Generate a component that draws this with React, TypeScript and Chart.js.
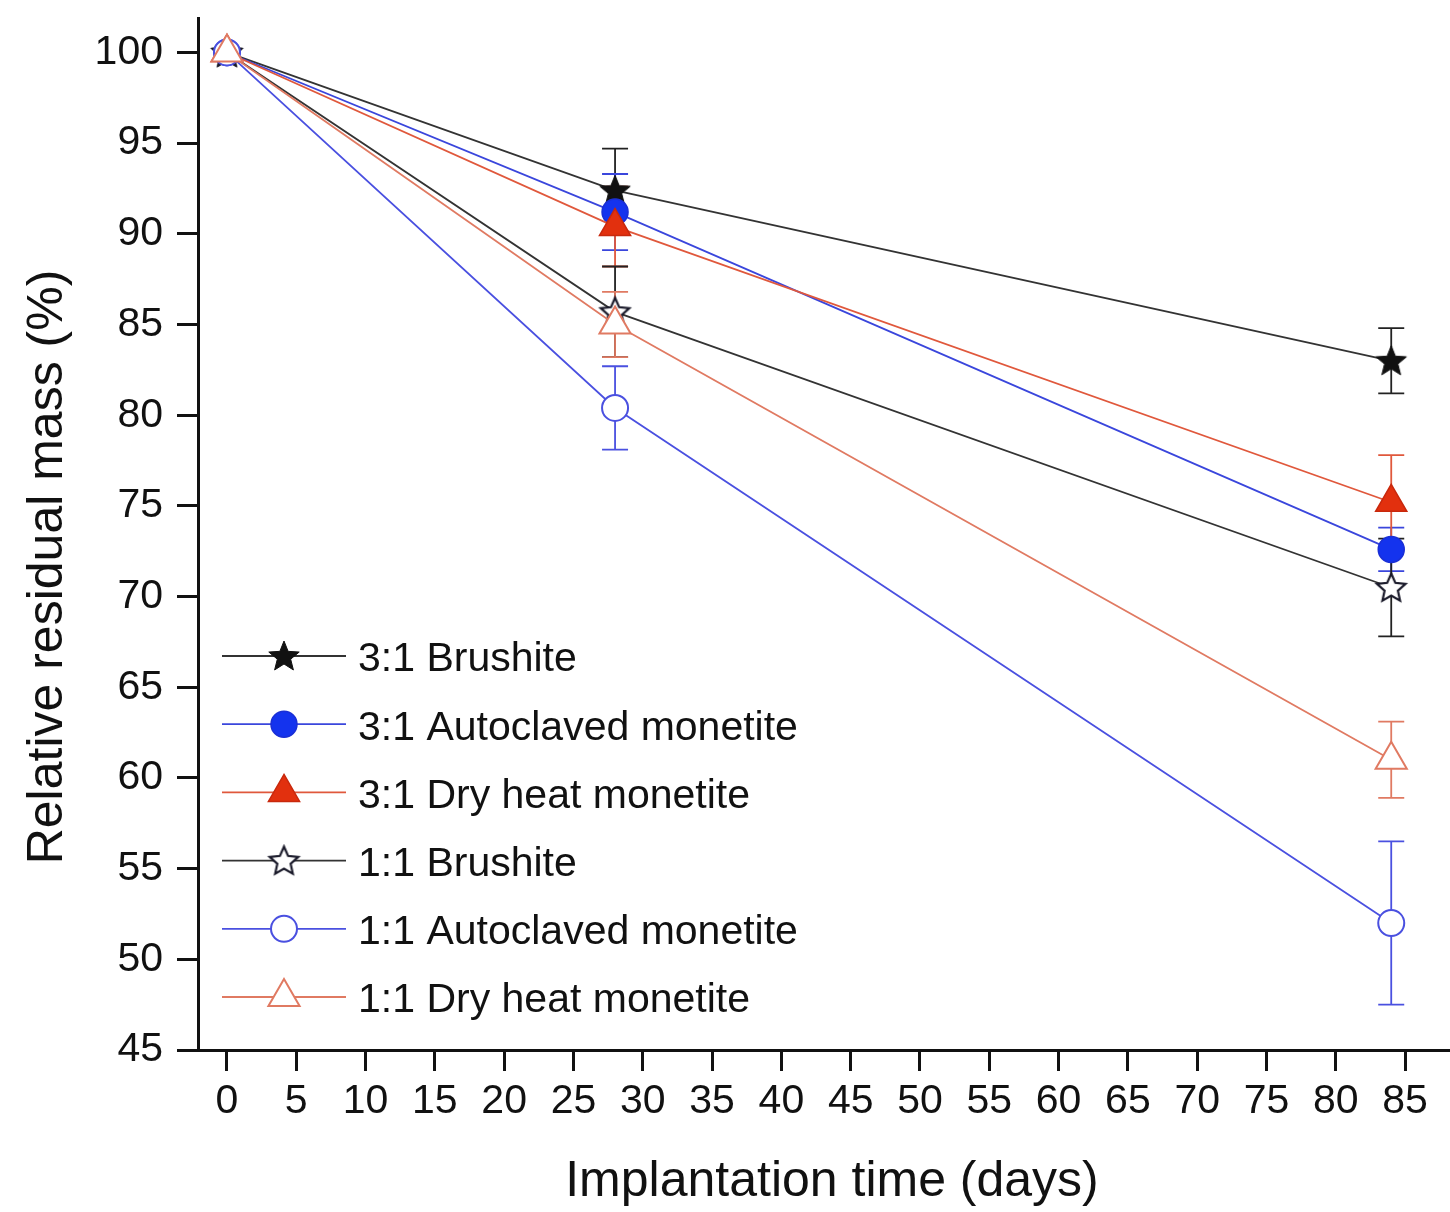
import React, { useEffect, useRef } from 'react';
import { Chart, registerables } from 'chart.js';

Chart.register(...registerables);

// ---------- data ----------
const days = [0, 28, 84];

const seriesNames = [
  '3:1 Brushite',
  '3:1 Autoclaved monetite',
  '3:1 Dry heat monetite',
  '1:1 Brushite',
  '1:1 Autoclaved monetite',
  '1:1 Dry heat monetite',
];

const brushite31 = [100, 92.4, 83.0];
const brushite31Err = [0, 2.3, 1.8];
const autoclaved31 = [100, 91.2, 72.6];
const autoclaved31Err = [0, 2.1, 1.2];
const dryHeat31 = [100, 90.4, 75.2];
const dryHeat31Err = [0, 2.2, 2.6];
const brushite11 = [100, 85.7, 70.5];
const brushite11Err = [0, 2.5, 2.7];
const autoclaved11 = [100, 80.4, 52.0];
const autoclaved11Err = [0, 2.3, 4.5];
const dryHeat11 = [100, 85.0, 61.0];
const dryHeat11Err = [0, 1.8, 2.1];

const xTickValues = [0, 5, 10, 15, 20, 25, 30, 35, 40, 45, 50, 55, 60, 65, 70, 75, 80, 85];
const yTickValues = [45, 50, 55, 60, 65, 70, 75, 80, 85, 90, 95, 100];

const xTitle = 'Implantation time (days)';
const yTitle = 'Relative residual mass (%)';

const FONT = "'Liberation Sans', Arial, Helvetica, sans-serif";

// ---------- marker images ----------
function makeStar(fill: string, stroke: string, R: number, r: number, lw: number) {
  const size = Math.ceil(2 * R + lw * 2 + 4);
  const c = document.createElement('canvas');
  c.width = size;
  c.height = size;
  const ctx = c.getContext('2d')!;
  ctx.translate(size / 2, size / 2 + 1);
  ctx.beginPath();
  for (let i = 0; i < 10; i++) {
    const rad = i % 2 === 0 ? R : r;
    const a = -Math.PI / 2 + (i * Math.PI) / 5;
    ctx.lineTo(rad * Math.cos(a), rad * Math.sin(a));
  }
  ctx.closePath();
  ctx.fillStyle = fill;
  ctx.fill();
  ctx.lineJoin = 'miter';
  ctx.lineWidth = lw;
  ctx.strokeStyle = stroke;
  ctx.stroke();
  return c;
}

type Series = {
  name: string;
  values: number[];
  errors: number[];
  line: string;
  err: string;
  style: any;
  radius: number;
  fill: string;
  edge: string;
  edgeWidth: number;
};

function buildSeries(): Series[] {
  const filledStar = makeStar('#111', '#111', 16, 7, 1);
  const openStar = makeStar('#ffffff', '#1a1a2a', 15, 7, 2.2);
  return [
    { name: seriesNames[0], values: brushite31, errors: brushite31Err, line: '#333', err: '#222', style: filledStar, radius: 16, fill: '#111', edge: '#111', edgeWidth: 1 },
    { name: seriesNames[1], values: autoclaved31, errors: autoclaved31Err, line: '#3a46dc', err: '#3a46dc', style: 'circle', radius: 13, fill: '#1433ee', edge: '#1a2fd6', edgeWidth: 1.5 },
    { name: seriesNames[2], values: dryHeat31, errors: dryHeat31Err, line: '#e0583c', err: '#e0583c', style: 'triangle', radius: 18, fill: '#e2300e', edge: '#c8280c', edgeWidth: 1.5 },
    { name: seriesNames[3], values: brushite11, errors: brushite11Err, line: '#333', err: '#222', style: openStar, radius: 15, fill: '#fff', edge: '#1a1a2a', edgeWidth: 2 },
    { name: seriesNames[4], values: autoclaved11, errors: autoclaved11Err, line: '#4a50e0', err: '#4a50e0', style: 'circle', radius: 13, fill: '#ffffff', edge: '#4a50e0', edgeWidth: 2 },
    { name: seriesNames[5], values: dryHeat11, errors: dryHeat11Err, line: '#e07a62', err: '#e07a62', style: 'triangle', radius: 18, fill: '#ffffff', edge: '#e07a62', edgeWidth: 2 },
  ];
}

function drawLegendMarker(ctx: CanvasRenderingContext2D, s: Series, x: number, y: number) {
  ctx.save();
  if (typeof s.style === 'object') {
    ctx.drawImage(s.style, x - s.style.width / 2, y - s.style.height / 2);
  } else if (s.style === 'circle') {
    ctx.beginPath();
    ctx.arc(x, y, s.radius, 0, Math.PI * 2);
    ctx.fillStyle = s.fill;
    ctx.fill();
    ctx.lineWidth = s.edgeWidth;
    ctx.strokeStyle = s.edge;
    ctx.stroke();
  } else if (s.style === 'triangle') {
    const r = s.radius;
    ctx.beginPath();
    for (let k = 0; k < 3; k++) {
      const a = (k * 2 * Math.PI) / 3;
      ctx.lineTo(x + Math.sin(a) * r, y - Math.cos(a) * r);
    }
    ctx.closePath();
    ctx.fillStyle = s.fill;
    ctx.fill();
    ctx.lineWidth = s.edgeWidth;
    ctx.strokeStyle = s.edge;
    ctx.stroke();
  }
  ctx.restore();
}

export default function App() {
  const canvasRef = useRef<HTMLCanvasElement | null>(null);

  useEffect(() => {
    document.body.style.margin = '0';
    const canvas = canvasRef.current;
    if (!canvas) return;
    const SERIES = buildSeries();

    const errorBarPlugin = {
      id: 'errorBars',
      beforeDatasetsDraw(chart: any) {
        const ctx = chart.ctx as CanvasRenderingContext2D;
        const xs = chart.scales.x;
        const ys = chart.scales.y;
        SERIES.forEach((s) => {
          ctx.save();
          ctx.strokeStyle = s.err;
          ctx.lineWidth = 1.8;
          s.values.forEach((v, i) => {
            const e = s.errors[i];
            if (!e) return;
            const px = xs.getPixelForValue(days[i]);
            const top = ys.getPixelForValue(v + e);
            const bot = ys.getPixelForValue(v - e);
            const cw = 13;
            ctx.beginPath();
            ctx.moveTo(px, top);
            ctx.lineTo(px, bot);
            ctx.moveTo(px - cw, top);
            ctx.lineTo(px + cw, top);
            ctx.moveTo(px - cw, bot);
            ctx.lineTo(px + cw, bot);
            ctx.stroke();
          });
          ctx.restore();
        });
      },
    };

    const legendTitlePlugin = {
      id: 'legendTitles',
      afterDraw(chart: any) {
        const ctx = chart.ctx as CanvasRenderingContext2D;
        // legend
        const x0 = 222;
        const x1 = 346;
        const xm = 284;
        const y0 = 656;
        const dy = 68.2;
        SERIES.forEach((s, i) => {
          const y = y0 + dy * i;
          ctx.save();
          ctx.strokeStyle = s.line;
          ctx.lineWidth = 1.8;
          ctx.beginPath();
          ctx.moveTo(x0, y);
          ctx.lineTo(x1, y);
          ctx.stroke();
          ctx.restore();
          drawLegendMarker(ctx, s, xm, y);
          ctx.save();
          ctx.fillStyle = '#111';
          ctx.font = `41px ${FONT}`;
          ctx.textAlign = 'left';
          ctx.textBaseline = 'middle';
          ctx.fillText(s.name, 358, y + 4);
          ctx.restore();
        });
        // axis titles
        ctx.save();
        ctx.fillStyle = '#111';
        ctx.font = `50px ${FONT}`;
        ctx.textAlign = 'center';
        ctx.textBaseline = 'alphabetic';
        ctx.fillText(xTitle, 832, 1196);
        ctx.translate(62, 567);
        ctx.rotate(-Math.PI / 2);
        ctx.textBaseline = 'alphabetic';
        ctx.fillText(yTitle, 0, 0);
        ctx.restore();
      },
    };

    const chart = new Chart(canvas, {
      type: 'line',
      data: {
        datasets: SERIES.map((s, idx) => ({
          label: s.name,
          data: days.map((d, i) => ({ x: d, y: s.values[i] })),
          borderColor: s.line,
          borderWidth: 1.8,
          pointStyle: s.style,
          pointRadius: s.radius,
          pointHoverRadius: s.radius,
          pointBackgroundColor: s.fill,
          pointBorderColor: s.edge,
          pointBorderWidth: s.edgeWidth,
          tension: 0,
          fill: false,
          order: SERIES.length - 1 - idx,
        })),
      },
      options: {
        responsive: false,
        animation: false,
        clip: false as any,
        layout: { autoPadding: false, padding: { top: 18, right: 0, left: 0, bottom: 0 } },
        plugins: {
          legend: { display: false },
          tooltip: { enabled: false },
          title: { display: false },
        },
        scales: {
          x: {
            type: 'linear',
            min: -2.09,
            max: 88.24,
            afterBuildTicks: (scale: any) => {
              scale.ticks = xTickValues.map((v) => ({ value: v }));
            },
            afterFit: (scale: any) => {
              scale.height = 162;
              scale.paddingLeft = 0;
              scale.paddingRight = 0;
            },
            grid: {
              drawOnChartArea: false,
              drawTicks: true,
              tickLength: 21,
              tickWidth: 3,
              tickColor: '#111',
            },
            border: { display: true, color: '#111', width: 3 },
            ticks: {
              color: '#111',
              font: { size: 41, family: FONT },
              padding: 6,
              maxRotation: 0,
              autoSkip: false,
              callback: (v: any) => String(v),
            },
          },
          y: {
            type: 'linear',
            min: 45,
            max: 101.9,
            afterBuildTicks: (scale: any) => {
              scale.ticks = yTickValues.map((v) => ({ value: v }));
            },
            afterFit: (scale: any) => {
              scale.width = 198;
              scale.paddingTop = 0;
              scale.paddingBottom = 0;
            },
            grid: {
              drawOnChartArea: false,
              drawTicks: true,
              tickLength: 21,
              tickWidth: 3,
              tickColor: '#111',
            },
            border: { display: true, color: '#111', width: 3 },
            ticks: {
              color: '#111',
              font: { size: 41, family: FONT },
              padding: 14,
              autoSkip: false,
              callback: (v: any) => String(v),
            },
          },
        },
      },
      plugins: [errorBarPlugin, legendTitlePlugin],
    });

    return () => {
      chart.destroy();
    };
  }, []);

  return (
    <div style={{ width: 1450, height: 1212, background: '#fff' }}>
      <canvas ref={canvasRef} width={1450} height={1212} style={{ display: 'block' }} />
    </div>
  );
}
